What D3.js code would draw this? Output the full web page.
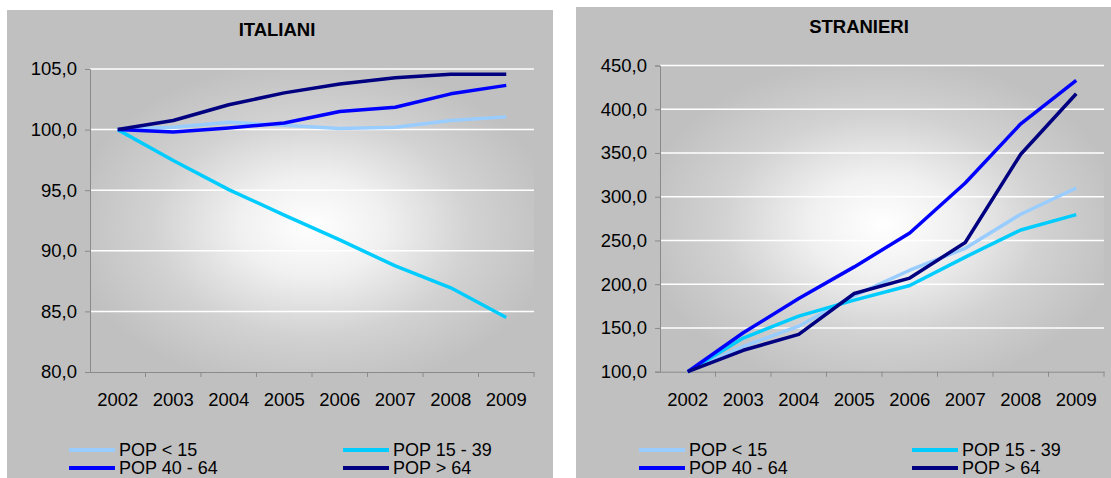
<!DOCTYPE html>
<html>
<head>
<meta charset="utf-8">
<script src="https://cdn.jsdelivr.net/npm/d3@7/dist/d3.min.js"></script>
<style>
  html, body { margin: 0; padding: 0; background: #ffffff; }
  svg { display: block; }
  text { font-family: "Liberation Sans", Arial, Helvetica, sans-serif; fill: #000; }
</style>
</head>
<body>
<svg id="chart" width="1111" height="478"></svg>
<script>
// ---------------- DATA ----------------
const years = ["2002", "2003", "2004", "2005", "2006", "2007", "2008", "2009"];
const seriesNames = ["POP < 15", "POP 15 - 39", "POP 40 - 64", "POP > 64"];
const seriesColors = ["#99ccff", "#00ccff", "#0000ff", "#000080"];

// ITALIANI (index 2002 = 100)
const itaUnder15 = [100, 100.2, 100.6, 100.35, 100.1, 100.2, 100.75, 101.05];
const ita15to39  = [100, 97.45, 95.05, 92.95, 90.9, 88.75, 86.95, 84.5];
const ita40to64  = [100, 99.8, 100.13, 100.55, 101.5, 101.85, 102.95, 103.65];
const itaOver64  = [100, 100.75, 102.05, 103.03, 103.77, 104.27, 104.57, 104.57];
const itaTicks = [80, 85, 90, 95, 100, 105];

// STRANIERI (index 2002 = 100)
const strUnder15 = [100, 129, 152, 187, 216, 241, 280, 310];
const str15to39  = [100, 138.5, 163.5, 181.8, 198.5, 231, 262, 279.6];
const str40to64  = [100, 144.5, 183.7, 219.8, 258.5, 315.7, 383.4, 433];
const strOver64  = [100, 124.5, 142.7, 189.4, 207, 247.7, 348.6, 417.7];
const strTicks = [100, 150, 200, 250, 300, 350, 400, 450];

const titles = ["ITALIANI", "STRANIERI"];

// ---------------- LAYOUT ----------------
const svg = d3.select("#chart");
const fmt = d3.formatLocale({decimal: ",", thousands: ".", grouping: [3], currency: ["", "€"]}).format(".1f");

const defs = svg.append("defs");
const grad = defs.append("radialGradient")
  .attr("id", "plotGrad")
  .attr("cx", "50%").attr("cy", "52%").attr("r", "55%");
grad.append("stop").attr("offset", "0%").attr("stop-color", "#ffffff");
grad.append("stop").attr("offset", "30%").attr("stop-color", "#f0f0f0");
grad.append("stop").attr("offset", "65%").attr("stop-color", "#d2d2d2");
grad.append("stop").attr("offset", "100%").attr("stop-color", "#c0c0c0");

const panels = [
  {
    title: titles[0], series: [itaUnder15, ita15to39, ita40to64, itaOver64], ticks: itaTicks,
    panel: {x: 7, y: 10, w: 546, h: 470},
    plot: {x0: 90, x1: 534, yTop: 69, yBot: 372},
    titleX: 277, titleY: 29,
    legendX: 62, legendCol2: 336
  },
  {
    title: titles[1], series: [strUnder15, str15to39, str40to64, strOver64], ticks: strTicks,
    panel: {x: 576, y: 7, w: 546, h: 473},
    plot: {x0: 660, x1: 1104, yTop: 65.5, yBot: 371.7},
    titleX: 859, titleY: 26,
    legendX: 63, legendCol2: 336
  }
];

panels.forEach(p => {
  const g = svg.append("g");
  g.append("rect")
    .attr("x", p.panel.x).attr("y", p.panel.y)
    .attr("width", p.panel.w).attr("height", p.panel.h)
    .attr("fill", "#c0c0c0");

  const x = d3.scaleBand().domain(years).range([p.plot.x0, p.plot.x1]).padding(0);
  const y = d3.scaleLinear().domain(d3.extent(p.ticks)).range([p.plot.yBot, p.plot.yTop]);

  // plot area gradient
  g.append("rect")
    .attr("x", p.plot.x0).attr("y", p.plot.yTop)
    .attr("width", p.plot.x1 - p.plot.x0).attr("height", p.plot.yBot - p.plot.yTop)
    .attr("fill", "url(#plotGrad)");

  // gridlines
  g.append("g").selectAll("line").data(p.ticks.filter(t => t !== p.ticks[0])).join("line")
    .attr("x1", p.plot.x0).attr("x2", p.plot.x1)
    .attr("y1", d => y(d)).attr("y2", d => y(d))
    .attr("stroke", "#ffffff").attr("stroke-width", 1.5);

  // y axis
  const yAxis = g.append("g").attr("transform", `translate(${p.plot.x0},0)`)
    .call(d3.axisLeft(y).tickValues(p.ticks).tickFormat(fmt).tickSize(5).tickPadding(8));
  yAxis.select(".domain").attr("stroke", "#8a8a8a");
  yAxis.selectAll(".tick line").attr("stroke", "#8a8a8a");
  yAxis.selectAll(".tick text")
    .style("font-family", '"Liberation Sans", Arial, sans-serif')
    .attr("font-size", 18.5).attr("fill", "#000");

  // x axis (labels centered on categories, ticks between categories)
  const xAxis = g.append("g").attr("transform", `translate(0,${p.plot.yBot})`)
    .call(d3.axisBottom(x).tickSize(0).tickPadding(0));
  xAxis.select(".domain").attr("stroke", "#8a8a8a");
  xAxis.selectAll(".tick text")
    .style("font-family", '"Liberation Sans", Arial, sans-serif')
    .attr("font-size", 18.5).attr("fill", "#000")
    .attr("y", 28).attr("dy", "0.35em");
  g.append("g").selectAll("line").data(years).join("line")
    .attr("x1", d => x(d) + x.bandwidth())
    .attr("x2", d => x(d) + x.bandwidth())
    .attr("y1", p.plot.yBot).attr("y2", p.plot.yBot + 5)
    .attr("stroke", "#8a8a8a");

  // lines
  const line = d3.line().x((d, i) => x(years[i]) + x.bandwidth() / 2).y(d => y(d));
  p.series.forEach((s, si) => {
    g.append("path").datum(s)
      .attr("d", line)
      .attr("fill", "none")
      .attr("stroke", seriesColors[si])
      .attr("stroke-width", 3.5)
      .attr("stroke-linejoin", "round");
  });

  // title
  g.append("text")
    .attr("x", p.titleX).attr("y", p.titleY)
    .attr("text-anchor", "middle").attr("dominant-baseline", "central")
    .attr("font-size", 18.5).attr("font-weight", "bold")
    .text(p.title);

  // legend
  const rows = [450, 468];
  seriesNames.forEach((name, i) => {
    const col = i % 2, row = Math.floor(i / 2);
    const lx = p.panel.x + (col === 0 ? p.legendX : p.legendCol2);
    const ly = rows[row];
    g.append("line")
      .attr("x1", lx).attr("x2", lx + 46)
      .attr("y1", ly).attr("y2", ly)
      .attr("stroke", seriesColors[i]).attr("stroke-width", 4);
    g.append("text")
      .attr("x", lx + 50).attr("y", ly)
      .attr("dominant-baseline", "central")
      .attr("font-size", 18)
      .text(name);
  });
});
</script>
</body>
</html>
